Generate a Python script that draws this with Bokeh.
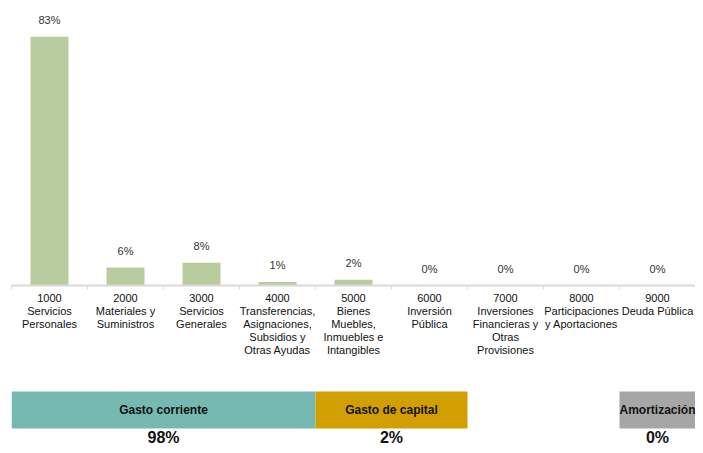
from bokeh.plotting import figure
from bokeh.layouts import column
from bokeh.models import Range1d, FixedTicker, ColumnDataSource
from bokeh.embed import file_html
from bokeh.resources import INLINE
from bokeh.core.properties import value

# ---- data ----
codes = ["1000", "2000", "3000", "4000", "5000", "6000", "7000", "8000", "9000"]
names = [
    "Servicios\nPersonales",
    "Materiales y\nSuministros",
    "Servicios\nGenerales",
    "Transferencias,\nAsignaciones,\nSubsidios y\nOtras Ayudas",
    "Bienes\nMuebles,\nInmuebles e\nIntangibles",
    "Inversión\nPública",
    "Inversiones\nFinancieras y\nOtras\nProvisiones",
    "Participaciones\ny Aportaciones",
    "Deuda Pública",
]
shares = [82.9, 6.0, 7.6, 1.2, 1.9, 0.0, 0.0, 0.0, 0.0]

groups = ["Gasto corriente", "Gasto de capital", "Amortización"]
group_shares = [98, 2, 0]
group_first = ["1000", "5000", "9000"]
group_last = ["4000", "6000", "9000"]

# ---- styles ----
FONT = "Liberation Sans"
BAR = "#b8cc9e"
GROUP_COLORS = ["#75b9b0", "#d19f00", "#a6a6a6"]
AXIS_GRAY = "#d9d9d9"

W = 695
x = list(range(len(codes)))
xr = Range1d(-0.5, len(codes) - 0.5)

p = figure(width=W, height=380, x_range=xr, y_range=Range1d(0, 95),
           output_backend="svg", toolbar_location=None,
           min_border_left=11, min_border_right=0, min_border_top=0, min_border_bottom=95)
p.outline_line_color = None
p.xgrid.visible = False
p.ygrid.visible = False
p.yaxis.visible = False

src = ColumnDataSource(dict(x=x, top=shares, label=[f"{v:.0f}%" for v in shares]))
p.vbar(x="x", top="top", width=0.5, bottom=0, source=src, fill_color=BAR, line_color=None)
p.text(x="x", y="top", text="label", source=src, text_align="center", text_baseline="middle",
       y_offset=-17, text_font=value(FONT), text_font_size="11px", text_color="#333333")

ax = p.xaxis[0]
ax.ticker = FixedTicker(ticks=x, minor_ticks=[i - 0.5 for i in range(len(codes) + 1)])
ax.major_label_overrides = {i: f"{c}\n{n}" for i, (c, n) in enumerate(zip(codes, names))}
ax.major_tick_line_color = None
ax.major_tick_out = 0
ax.major_tick_in = 0
ax.minor_tick_line_color = AXIS_GRAY
ax.minor_tick_out = 4
ax.minor_tick_in = 0
ax.axis_line_color = AXIS_GRAY
ax.axis_line_width = 2
ax.major_label_standoff = 2
ax.major_label_text_font = FONT
ax.major_label_text_font_size = "11px"
ax.major_label_text_color = "#111111"
ax.major_label_text_line_height = 1.1

# ---- strip ----
q = figure(width=W, height=65, x_range=xr, y_range=Range1d(65, 0),
           output_backend="svg", toolbar_location=None,
           min_border_left=11, min_border_right=0, min_border_top=0, min_border_bottom=0)
q.outline_line_color = None
q.xgrid.visible = False
q.ygrid.visible = False
q.axis.visible = False

lefts = [codes.index(a) - 0.5 for a in group_first]
rights = [codes.index(b) + 0.5 for b in group_last]
mids = [(l + r) / 2 for l, r in zip(lefts, rights)]
gsrc = ColumnDataSource(dict(left=lefts, right=rights, mid=mids, name=groups,
                             color=GROUP_COLORS, pct=[f"{v}%" for v in group_shares]))
q.quad(left="left", right="right", top=11, bottom=48, fill_color="color", line_color=None, source=gsrc)
q.text(x="mid", y=29.5, text="name", source=gsrc, text_align="center", text_baseline="middle",
       text_font=value(FONT), text_font_size="12px", text_font_style="bold", text_color="#111111")
q.text(x="mid", y=56.5, text="pct", source=gsrc, text_align="center", text_baseline="middle",
       text_font=value(FONT), text_font_size="16px", text_font_style="bold", text_color="#111111")

layout = column(p, q, spacing=0)
open("out.html", "w").write(file_html(layout, INLINE))
